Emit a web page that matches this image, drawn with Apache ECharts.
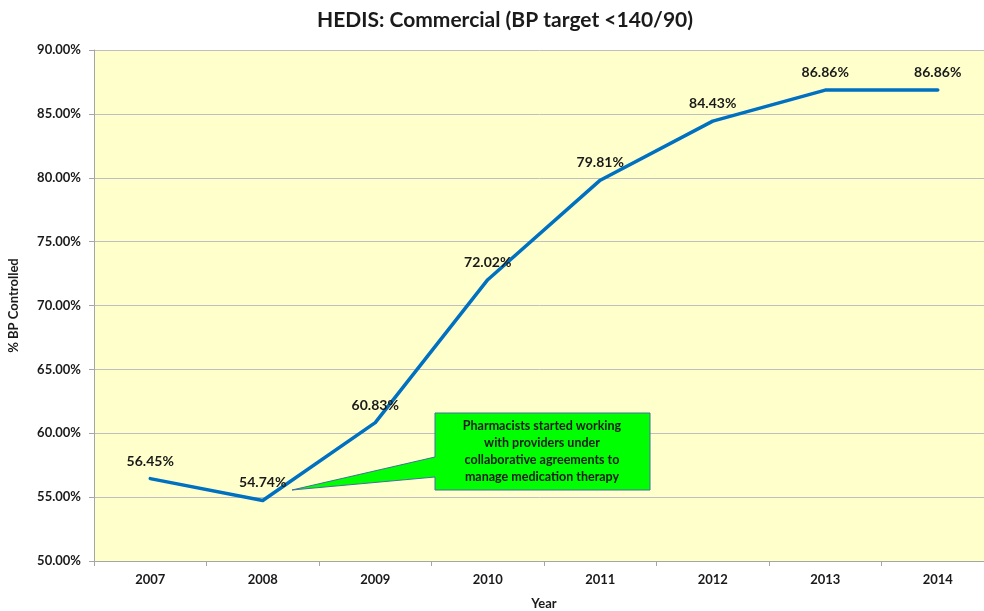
<!DOCTYPE html>
<html>
<head>
<meta charset="utf-8">
<script src="https://cdn.jsdelivr.net/npm/echarts@6/dist/echarts.min.js"></script>
<style>
  html, body { margin: 0; padding: 0; background: #fff; }
  #chart { width: 984px; height: 611px; }
</style>
</head>
<body>
<div id="chart"></div>
<script>
// data
const years = ['2007', '2008', '2009', '2010', '2011', '2012', '2013', '2014'];
const bpControlled = [56.45, 54.74, 60.83, 72.02, 79.81, 84.43, 86.86, 86.86];

const font = 'Lato, "Open Sans", sans-serif';

const chart = echarts.init(document.getElementById('chart'));
chart.setOption({
  animation: false,
  title: {
    text: 'HEDIS: Commercial (BP target <140/90)',
    left: 500, top: 5, textAlign: 'center',
    textStyle: { fontFamily: font, fontSize: 21, fontWeight: 'bold', color: '#1a1a1a' }
  },
  grid: {
    left: 94, top: 50, width: 900, height: 511,
    outerBoundsMode: 'none', containLabel: false,
    backgroundColor: '#FFFFCC', show: true, borderWidth: 0
  },
  xAxis: {
    type: 'category',
    data: years,
    name: 'Year',
    nameLocation: 'middle',
    nameGap: 36,
    nameTextStyle: { fontFamily: font, fontSize: 13, fontWeight: 'bold', color: '#1a1a1a' },
    axisLine: { lineStyle: { color: '#A6A6A6' } },
    axisTick: { show: true, lineStyle: { color: '#A6A6A6' }, length: 5 },
    axisLabel: { fontFamily: font, fontSize: 13, fontWeight: 'bold', color: '#1a1a1a', margin: 12 }
  },
  yAxis: {
    type: 'value',
    min: 50, max: 90, interval: 5,
    name: '% BP Controlled',
    nameLocation: 'middle',
    nameGap: 74,
    nameTextStyle: { fontFamily: font, fontSize: 13, fontWeight: 'bold', color: '#1a1a1a' },
    axisLine: { show: true, lineStyle: { color: '#A6A6A6' } },
    axisTick: { show: true, lineStyle: { color: '#A6A6A6' }, length: 5 },
    splitLine: { lineStyle: { color: '#BFBFBF', width: 1 } },
    axisLabel: {
      fontFamily: font, fontSize: 13, fontWeight: 'bold', color: '#1a1a1a', margin: 13,
      formatter: v => v.toFixed(2) + '%'
    }
  },
  series: [{
    type: 'line',
    data: bpControlled,
    showSymbol: true,
    symbol: 'circle',
    symbolSize: 1,
    itemStyle: { color: '#0070C0' },
    lineStyle: { color: '#0070C0', width: 3.5, cap: 'round', join: 'round' },
    label: {
      show: true, position: 'top', distance: 10,
      fontFamily: font, fontSize: 14, fontWeight: 'bold', color: '#1a1a1a',
      formatter: p => p.value.toFixed(2) + '%'
    }
  }],
  graphic: [{
    type: 'polygon',
    z: 100,
    shape: { points: [[435, 413], [650, 413], [650, 490], [435, 490], [435, 477], [292, 490], [435, 457]] },
    style: { fill: '#00FF00', stroke: '#41719C', lineWidth: 1 }
  }, {
    type: 'text',
    z: 101,
    x: 542, y: 417,
    style: {
      text: 'Pharmacists started working\nwith providers under\ncollaborative agreements to\nmanage medication therapy',
      fontFamily: font, fontSize: 12.5, fontWeight: 'bold', fill: '#1a1a1a',
      align: 'center', verticalAlign: 'top', lineHeight: 17
    }
  }]
});
</script>
</body>
</html>
